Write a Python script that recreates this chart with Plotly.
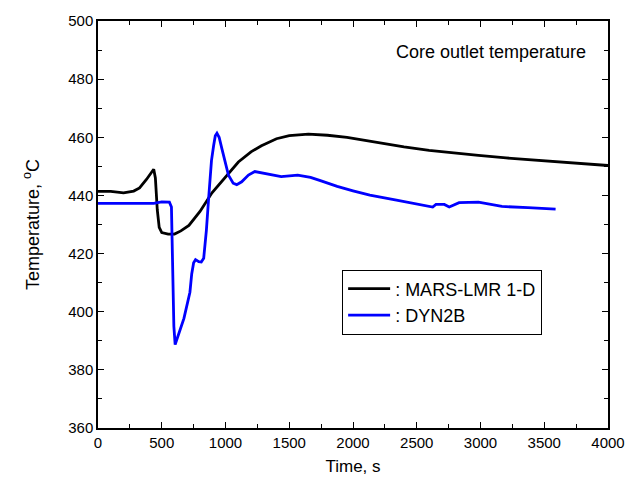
import plotly.graph_objects as go

# MARS-LMR 1-D
mars_t = [0, 100, 200, 280, 326, 380, 437, 450, 465, 480, 500, 550, 600, 650, 713, 800, 894, 1000,
          1101, 1200, 1282, 1400, 1500, 1650, 1800, 1953, 2100, 2209, 2400, 2597, 2800, 2984,
          3200, 3372, 3600, 3800, 4000]
mars_T = [441.4, 441.4, 440.9, 441.5, 442.6, 445.5, 449.0, 446.0, 435.0, 429.0, 427.2, 426.7, 426.7,
          427.8, 429.7, 434.5, 440.9, 446.5, 451.5, 455.0, 457.1, 459.5, 460.6, 461.1, 460.7, 460.0,
          458.9, 458.0, 456.7, 455.5, 454.5, 453.8, 452.9, 452.3, 451.5, 450.9, 450.3]

# DYN2B
dyn_t = [0, 300, 437, 500, 560, 576, 585, 595, 605, 640, 674, 721, 735, 750, 765, 790, 810, 829, 850,
         868, 890, 907, 920, 933, 950, 972, 1000, 1023, 1060, 1088, 1127, 1180, 1230, 1300, 1437,
         1566, 1667, 1750, 1876, 2000, 2132, 2341, 2500, 2625, 2651, 2716, 2755, 2800, 2832, 2984,
         3080, 3168, 3372, 3589]
dyn_T = [437.3, 437.3, 437.3, 437.8, 437.7, 436.0, 415.0, 395.0, 388.7, 393.0, 397.7, 406.7, 413.0,
         416.8, 417.9, 417.2, 417.1, 418.4, 428.0, 439.2, 452.0, 457.2, 460.5, 461.4, 460.0, 456.0,
         450.5, 447.0, 444.2, 443.7, 444.7, 447.0, 448.2, 447.6, 446.5, 447.0, 446.2, 445.0, 443.1,
         441.6, 440.1, 438.4, 437.2, 436.0, 436.9, 436.9, 436.0, 436.9, 437.5, 437.7, 437.0, 436.2,
         435.8, 435.3]

x_ticks = [0, 500, 1000, 1500, 2000, 2500, 3000, 3500, 4000]
y_ticks = [360, 380, 400, 420, 440, 460, 480, 500]

FONT = "Liberation Sans, Arial, sans-serif"

fig = go.Figure()
fig.add_trace(go.Scatter(x=mars_t, y=mars_T, mode="lines", name=": MARS-LMR 1-D",
                         line=dict(color="black", width=2.8)))
fig.add_trace(go.Scatter(x=dyn_t, y=dyn_T, mode="lines", name=": DYN2B",
                         line=dict(color="#0000FF", width=2.8)))

axis_common = dict(showline=True, linecolor="black", linewidth=1.5, mirror="allticks",
                   ticks="inside", ticklen=6, tickwidth=1.2, tickcolor="black",
                   showgrid=False, zeroline=False,
                   tickfont=dict(family=FONT, size=15, color="black"))

fig.update_layout(
    width=637, height=485,
    margin=dict(l=98, r=23, t=16, b=53),
    paper_bgcolor="white", plot_bgcolor="white",
    font=dict(family=FONT, color="black"),
    showlegend=True,
    legend=dict(x=(345 - 98) / 516, y=(432 - 270) / 416, xanchor="left", yanchor="top",
                bordercolor="black", borderwidth=1, bgcolor="white",
                font=dict(family=FONT, size=18, color="black"),
                itemwidth=42, tracegroupgap=0),
    xaxis=dict(range=[0, 4000], tickvals=x_ticks,
               minor=dict(dtick=250, ticks="inside", ticklen=4, tickcolor="black"),
               title=dict(text="Time, s", font=dict(family=FONT, size=17), standoff=10),
               **axis_common),
    yaxis=dict(range=[360, 500], tickvals=y_ticks,
               minor=dict(dtick=10, ticks="inside", ticklen=4, tickcolor="black"),
               title=dict(text="Temperature, <sup>o</sup>C", font=dict(family=FONT, size=18), standoff=24),
               **axis_common),
    annotations=[dict(text="Core outlet temperature", x=0.961, y=0.925, xref="paper", yref="paper",
                      xanchor="right", yanchor="middle", showarrow=False,
                      font=dict(family=FONT, size=18, color="black"))],
)

fig.write_html("out.html")
